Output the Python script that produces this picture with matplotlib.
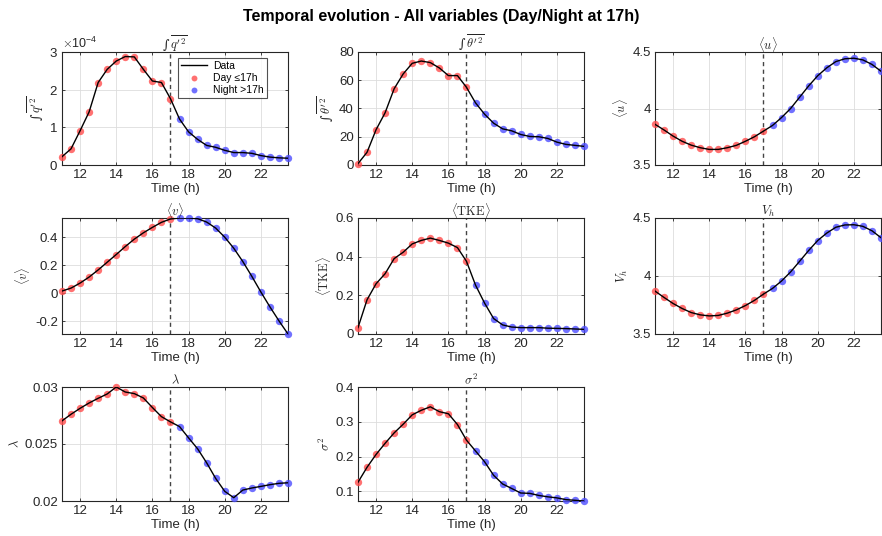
import numpy as np
import matplotlib
matplotlib.use("Agg")
import matplotlib.pyplot as plt
from matplotlib.ticker import ScalarFormatter

plt.rcParams["font.family"] = ["Liberation Sans", "DejaVu Sans"]
plt.rcParams["mathtext.fontset"] = "cm"

# time axis (h), half-hourly
hours = [11, 11.5, 12, 12.5, 13, 13.5, 14, 14.5, 15, 15.5, 16, 16.5, 17,
         17.5, 18, 18.5, 19, 19.5, 20, 20.5, 21, 21.5, 22, 22.5, 23, 23.5]
split_hour = 17

q2_int = [0.22e-4, 0.43e-4, 0.91e-4, 1.41e-4, 2.19e-4, 2.54e-4, 2.76e-4, 2.88e-4,
          2.87e-4, 2.54e-4, 2.23e-4, 2.19e-4, 1.76e-4, 1.22e-4, 0.88e-4, 0.68e-4,
          0.52e-4, 0.47e-4, 0.39e-4, 0.33e-4, 0.33e-4, 0.31e-4, 0.25e-4, 0.21e-4,
          0.19e-4, 0.18e-4]
theta2_int = [1.0, 9.0, 25.0, 37.0, 54.0, 64.5, 72.0, 73.6, 72.5, 68.7, 63.3, 63.3,
              55.0, 44.0, 36.0, 29.6, 25.6, 24.2, 21.6, 20.2, 20.0, 18.8, 16.2,
              14.6, 13.9, 13.2]
u_mean = [3.86, 3.81, 3.756, 3.71, 3.676, 3.653, 3.638, 3.638, 3.653, 3.674, 3.71,
          3.75, 3.80, 3.85, 3.92, 4.00, 4.10, 4.20, 4.29, 4.36, 4.415, 4.44, 4.445,
          4.43, 4.39, 4.33]
v_mean = [0.017, 0.038, 0.074, 0.117, 0.168, 0.223, 0.278, 0.335, 0.388, 0.433,
          0.472, 0.508, 0.532, 0.539, 0.539, 0.534, 0.51, 0.467, 0.402, 0.323,
          0.228, 0.122, 0.01, -0.096, -0.196, -0.29]
tke_mean = [0.033, 0.177, 0.26, 0.312, 0.39, 0.423, 0.466, 0.484, 0.496, 0.484,
            0.47, 0.447, 0.376, 0.253, 0.16, 0.08, 0.047, 0.036, 0.033, 0.033,
            0.033, 0.03, 0.029, 0.028, 0.026, 0.024]
vh = [3.87, 3.815, 3.763, 3.72, 3.685, 3.665, 3.656, 3.66, 3.68, 3.708, 3.745,
      3.79, 3.844, 3.893, 3.957, 4.035, 4.127, 4.22, 4.306, 4.37, 4.42, 4.44,
      4.442, 4.428, 4.39, 4.33]
lam = [0.02703, 0.02761, 0.02813, 0.0286, 0.02901, 0.02939, 0.03, 0.02956,
       0.02942, 0.02904, 0.0282, 0.0274, 0.02694, 0.02653, 0.02554, 0.02458,
       0.02335, 0.02198, 0.02085, 0.02029, 0.02096, 0.02114, 0.02128, 0.02143,
       0.02155, 0.0216]
sigma2 = [0.126, 0.169, 0.206, 0.238, 0.268, 0.293, 0.320, 0.333, 0.343, 0.329,
          0.323, 0.292, 0.247, 0.216, 0.185, 0.146, 0.121, 0.108, 0.095, 0.094,
          0.088, 0.084, 0.081, 0.076, 0.074, 0.072]

titles = ["\u222b" + r"$\,\overline{q'^2}$", "\u222b" + r"$\,\overline{\theta'^2}$",
          r"$\langle u\rangle$", r"$\langle v\rangle$", r"$\langle\mathrm{TKE}\rangle$",
          r"$V_h$", r"$\lambda$", r"$\sigma^2$"]
series = [q2_int, theta2_int, u_mean, v_mean, tke_mean, vh, lam, sigma2]
ylims = [(0, 3e-4), (0, 80), (3.5, 4.5), (min(v_mean), max(v_mean)), (0, 0.6),
         (3.5, 4.5), (0.02, 0.03), (min(sigma2), 0.4)]
yticks = [[0, 1e-4, 2e-4, 3e-4], [0, 20, 40, 60, 80], [3.5, 4, 4.5],
          [-0.2, 0, 0.2, 0.4], [0, 0.2, 0.4, 0.6], [3.5, 4, 4.5],
          [0.02, 0.025, 0.03], [0.1, 0.2, 0.3, 0.4]]
ytick_labels = [None, None, ["3.5", "4", "4.5"], ["-0.2", "0", "0.2", "0.4"],
                ["0", "0.2", "0.4", "0.6"], ["3.5", "4", "4.5"],
                ["0.02", "0.025", "0.03"], ["0.1", "0.2", "0.3", "0.4"]]

W, H = 882, 536
fig = plt.figure(figsize=(W / 100, H / 100), dpi=100)
col_left = [62, 358, 655]
rows = [(52, 165), (218, 334), (387, 501)]
axw = 226

t = np.array(hours)
day = t <= split_hour
text_c = "#262626"
lab_font = ["DejaVu Serif", "DejaVu Sans"]

for i, (y, ttl) in enumerate(zip(series, titles)):
    r, c = divmod(i, 3)
    top, bot = rows[r]
    ax = fig.add_axes([col_left[c] / W, 1 - bot / H, axw / W, (bot - top) / H])
    y = np.array(y)
    ax.scatter(t[day], y[day], s=28, color=(1, 0.3, 0.3), alpha=0.8, lw=0,
               zorder=3, label="Day \u226417h", clip_on=False)
    ax.scatter(t[~day], y[~day], s=28, color=(0.3, 0.3, 1), alpha=0.8, lw=0,
               zorder=3, label="Night >17h", clip_on=False)
    ax.plot(t, y, color="black", lw=1.0, zorder=4, label="Data")
    ax.axvline(split_hour, color="#444444", ls="--", lw=1.0, dashes=(3, 2.5), zorder=2)
    ax.set_xlim(11, 23.5)
    ax.set_ylim(*ylims[i])
    ax.set_xticks([12, 14, 16, 18, 20, 22])
    ax.set_yticks(yticks[i])
    if ytick_labels[i] is not None:
        ax.set_yticklabels(ytick_labels[i])
    ax.grid(True, color="#dddddd", lw=0.6)
    ax.set_axisbelow(True)
    ax.tick_params(direction="in", length=2.5, width=0.6, labelsize=9.5,
                   colors=text_c, top=True, right=True, pad=3)
    for sp in ax.spines.values():
        sp.set_linewidth(0.8)
        sp.set_color("#262626")
    ax.set_title(ttl, fontsize=9, pad=2, color=text_c, family=lab_font)
    ax.set_ylabel(ttl, fontsize=9, color=text_c, labelpad=2, family=lab_font)
    ax.set_xlabel("Time (h)", fontsize=9.5, color=text_c, labelpad=1)
    if i == 0:
        fmt = ScalarFormatter(useMathText=True)
        fmt.set_powerlimits((-3, 3))
        ax.yaxis.set_major_formatter(fmt)
        ax.yaxis.get_offset_text().set_fontsize(9)
        ax.yaxis.get_offset_text().set_color(text_c)
        h, l = ax.get_legend_handles_labels()
        order = [2, 0, 1]
        leg = ax.legend([h[k] for k in order], [l[k] for k in order],
                        loc="upper right", bbox_to_anchor=(0.93, 0.995), fontsize=7.5,
                        frameon=True, fancybox=False, edgecolor="#262626",
                        handlelength=2.5, borderpad=0.3, labelspacing=0.2,
                        markerscale=0.8, handletextpad=0.6)
        leg.get_frame().set_linewidth(0.8)

fig.text(0.5, 1 - 17 / H, "Temporal evolution - All variables (Day/Night at 17h)",
         ha="center", va="center", fontsize=11.5, fontweight="bold")

fig.savefig("out.png", dpi=100)
